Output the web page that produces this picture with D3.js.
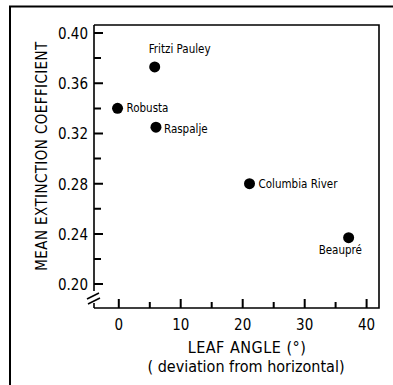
<!DOCTYPE html>
<html>
<head>
<meta charset="utf-8">
<script src="https://cdn.jsdelivr.net/npm/d3@7"></script>
<style>
  body { margin: 0; background: #fff; }
  text { font-family: "DejaVu Sans Condensed", "DejaVu Sans", sans-serif; fill: #000; }
</style>
</head>
<body>
<svg id="chart" width="393" height="385"></svg>
<script>
// values
const cultivars = ["Fritzi Pauley", "Robusta", "Raspalje", "Columbia River", "Beaupré"];
const leafAngle = [5.8, -0.2, 6.0, 21.1, 37.1];
const extinction = [0.373, 0.340, 0.325, 0.280, 0.237];
const xTicks = [0, 10, 20, 30, 40];
const xMinor = [5, 15, 25, 35];
const yTicks = [0.20, 0.24, 0.28, 0.32, 0.36, 0.40];
const yMinor = [0.22, 0.26, 0.30, 0.34, 0.38];

// label placement per point: [dx, dy]
const labelPos = [[-6, -14], [9, 4], [8, 6], [9, 4], [-30, 16]];

const svg = d3.select('#chart');
const L = 94, R = 379, T = 25, B = 308;

const x = d3.scaleLinear().domain([-4, 42]).range([L, R]);
const y = d3.scaleLinear().domain([0.181, 0.4064]).range([B, T]);

// outer frame (cropped: only top and left visible)
svg.append('path')
    .attr('d', `M10,385V6.5H393`)
    .attr('fill', 'none')
    .attr('stroke', '#000')
    .attr('stroke-width', 2);

// plot frame: top, right, bottom
svg.append('path')
    .attr('d', `M${L},${T}H${R}V${B}H${L}`)
    .attr('fill', 'none')
    .attr('stroke', '#000')
    .attr('stroke-width', 1.6);

// left axis with break
svg.append('path')
    .attr('d', `M${L},${T}V${B - 17}M${L},${B - 5}V${B}`)
    .attr('fill', 'none')
    .attr('stroke', '#000')
    .attr('stroke-width', 1.6);
svg.append('path')
    .attr('d', `M${L - 7},${B - 9}L${L + 5},${B - 15}M${L - 6},${B - 4}L${L + 6},${B - 10}`)
    .attr('fill', 'none')
    .attr('stroke', '#000')
    .attr('stroke-width', 1.6);

// tick marks, pointing inward
let tickPath = '';
yTicks.forEach(v => { tickPath += `M${L},${y(v).toFixed(1)}h9`; });
yMinor.forEach(v => { tickPath += `M${L},${y(v).toFixed(1)}h7`; });
xTicks.forEach(v => { tickPath += `M${x(v).toFixed(1)},${B}v-9`; });
xMinor.forEach(v => { tickPath += `M${x(v).toFixed(1)},${B}v-6`; });
svg.append('path')
    .attr('d', tickPath)
    .attr('fill', 'none')
    .attr('stroke', '#000')
    .attr('stroke-width', 2);

svg.append('g').selectAll('text')
    .data(yTicks)
    .enter()
    .append('text')
    .attr('x', L - 6)
    .attr('y', d => y(d) + 6)
    .attr('text-anchor', 'end')
    .attr('font-size', 15)
    .text(d => d.toFixed(2));

svg.append('g').selectAll('text')
    .data(xTicks)
    .enter()
    .append('text')
    .attr('x', d => x(d))
    .attr('y', B + 22)
    .attr('text-anchor', 'middle')
    .attr('font-size', 15)
    .text(d => d);

// axis titles
svg.append('text')
    .attr('transform', `translate(47,156) rotate(-90)`)
    .attr('text-anchor', 'middle')
    .attr('font-size', 15)
    .attr('letter-spacing', 0.4)
    .text('MEAN  EXTINCTION  COEFFICIENT');
svg.append('text')
    .attr('x', 247)
    .attr('y', 353)
    .attr('text-anchor', 'middle')
    .attr('font-size', 16)
    .attr('letter-spacing', 0.5)
    .text('LEAF ANGLE (°)');
svg.append('text')
    .attr('x', 246)
    .attr('y', 372)
    .attr('text-anchor', 'middle')
    .attr('font-size', 16)
    .text('( deviation from horizontal)');

// points
const pts = cultivars.map((c, i) => ({name: c, a: leafAngle[i], k: extinction[i], p: labelPos[i]}));
svg.append('g').selectAll('circle')
    .data(pts)
    .enter()
    .append('circle')
    .attr('cx', d => x(d.a))
    .attr('cy', d => y(d.k))
    .attr('r', 5.5)
    .attr('fill', '#000');
svg.append('g').selectAll('text')
    .data(pts)
    .enter()
    .append('text')
    .attr('x', d => x(d.a) + d.p[0])
    .attr('y', d => y(d.k) + d.p[1])
    .attr('font-size', 11.5)
    .text(d => d.name);
</script>
</body>
</html>
